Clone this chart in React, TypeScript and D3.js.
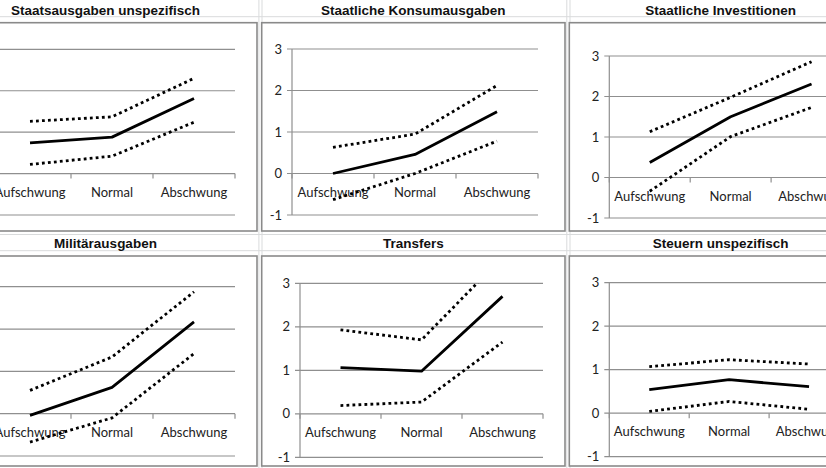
import React from "react";
import * as d3 from "d3";

const categories = ["Aufschwung", "Normal", "Abschwung"];
const yTicks = [-1, 0, 1, 2, 3];
const titles = [
  "Staatsausgaben unspezifisch",
  "Staatliche Konsumausgaben",
  "Staatliche Investitionen",
  "Militärausgaben",
  "Transfers",
  "Steuern unspezifisch",
];

// estimate, upper bound, lower bound
const staatsausgabenMid = [0.74, 0.88, 1.81];
const staatsausgabenUp = [1.26, 1.37, 2.3];
const staatsausgabenLo = [0.22, 0.42, 1.24];

const konsumMid = [0.0, 0.46, 1.49];
const konsumUp = [0.63, 0.95, 2.12];
const konsumLo = [-0.63, 0.0, 0.78];

const investMid = [0.37, 1.5, 2.31];
const investUp = [1.13, 1.98, 2.86];
const investLo = [-0.34, 1.01, 1.73];

const militaerMid = [-0.04, 0.62, 2.17];
const militaerUp = [0.55, 1.34, 2.88];
const militaerLo = [-0.67, -0.1, 1.42];

const transfersMid = [1.06, 0.98, 2.7];
const transfersUp = [1.93, 1.7, 3.6];
const transfersLo = [0.19, 0.27, 1.65];

const steuernMid = [0.54, 0.77, 0.61];
const steuernUp = [1.07, 1.23, 1.13];
const steuernLo = [0.04, 0.27, 0.09];

const seriesByPanel = [
  [staatsausgabenMid, staatsausgabenUp, staatsausgabenLo],
  [konsumMid, konsumUp, konsumLo],
  [investMid, investUp, investLo],
  [militaerMid, militaerUp, militaerLo],
  [transfersMid, transfersUp, transfersLo],
  [steuernMid, steuernUp, steuernLo],
];

// layout of each chart object (borders and plot areas)
const layouts = [
  { bx0: -46, bx1: 257, by0: 22.7, by1: 231, px0: -11, px1: 235, py0: 49.3, py1: 215, ty: 15 },
  { bx0: 261.7, bx1: 565, by0: 22.7, by1: 231, px0: 292, px1: 538, py0: 49, py1: 215, ty: 15 },
  { bx0: 569.3, bx1: 872, by0: 22.7, by1: 231, px0: 609.3, px1: 852, py0: 56, py1: 218, ty: 15 },
  { bx0: -46, bx1: 257, by0: 256, by1: 466, px0: -11, px1: 235, py0: 286.7, py1: 456, ty: 247.5 },
  { bx0: 261.7, bx1: 565, by0: 256, by1: 466, px0: 300, px1: 543, py0: 283.3, py1: 457.3, ty: 247.5 },
  { bx0: 569.3, bx1: 872, by0: 256, by1: 466, px0: 609.3, px1: 849, py0: 282.7, py1: 456.7, ty: 247.5 },
];

const GRID = "#8f8f8f";
const SHEET = "#d9dbdc";

function Panel({ idx }: { idx: number }) {
  const L = layouts[idx];
  const x = d3.scaleBand<string>().domain(categories).range([L.px0, L.px1]).padding(0);
  const y = d3.scaleLinear().domain([-1, 3]).range([L.py1, L.py0]);
  const bw = x.bandwidth();
  const line = d3
    .line<number>()
    .x((_, i) => (x(categories[i]) as number) + bw / 2)
    .y((v) => y(v));
  const [mid, up, lo] = seriesByPanel[idx];
  const clipId = `clip${idx}`;
  const y0 = y(0);
  const showYLabels = L.px0 - 10 > 0;
  return (
    <g>
      <rect
        x={L.bx0}
        y={L.by0}
        width={L.bx1 - L.bx0}
        height={L.by1 - L.by0}
        fill="#fff"
        stroke="#8a8a8a"
        strokeWidth={1.6}
      />
      <text
        x={(L.bx0 + L.bx1) / 2}
        y={L.ty}
        textAnchor="middle"
        fontFamily="'Liberation Sans', Arial, sans-serif"
        fontWeight="bold"
        fontSize={13.5}
        fill="#111"
      >
        {titles[idx]}
      </text>
      <defs>
        <clipPath id={clipId}>
          <rect x={L.px0} y={y(3)} width={L.px1 - L.px0 + 20} height={y(-1) - y(3)} />
        </clipPath>
      </defs>
      {yTicks.map((t) => (
        <g key={t}>
          <line x1={L.px0 - 5} x2={L.px1} y1={y(t)} y2={y(t)} stroke={GRID} strokeWidth={1.2} />
          {showYLabels && (
            <text
              x={L.px0 - 10}
              y={y(t) + 4.5}
              textAnchor="end"
              fontFamily="Lato, 'Open Sans', sans-serif"
              fontSize={13}
              fill="#222"
            >
              {t}
            </text>
          )}
        </g>
      ))}
      <line x1={L.px0} x2={L.px0} y1={y(3)} y2={y(-1)} stroke={GRID} strokeWidth={1.2} />
      {[0, 1, 2, 3].map((i) => (
        <line
          key={i}
          x1={L.px0 + i * bw}
          x2={L.px0 + i * bw}
          y1={y0}
          y2={y0 + 5}
          stroke={GRID}
          strokeWidth={1.2}
        />
      ))}
      {categories.map((c) => (
        <text
          key={c}
          x={(x(c) as number) + bw / 2}
          y={y0 + 23}
          textAnchor="middle"
          fontFamily="Lato, 'Open Sans', sans-serif"
          fontSize={13}
          fill="#222"
        >
          {c}
        </text>
      ))}
      <g clipPath={`url(#${clipId})`}>
        <path d={line(up) || ""} fill="none" stroke="#000" strokeWidth={2.8} strokeDasharray="2.8 3.2" />
        <path d={line(lo) || ""} fill="none" stroke="#000" strokeWidth={2.8} strokeDasharray="2.8 3.2" />
        <path d={line(mid) || ""} fill="none" stroke="#000" strokeWidth={2.8} strokeLinejoin="round" />
      </g>
    </g>
  );
}

export default function App() {
  return (
    <svg
      width={826}
      height={468}
      style={{ position: "absolute", left: 0, top: 0, background: "#fff" }}
    >
      <rect x={0} y={0} width={826} height={468} fill="#fff" />
      {[16.7, 234.5, 250.7].map((v) => (
        <line key={v} x1={0} x2={826} y1={v} y2={v} stroke={SHEET} strokeWidth={1} />
      ))}
      {[258.9, 262, 566.8, 570].map((v) => (
        <line key={v} x1={v} x2={v} y1={0} y2={468} stroke={SHEET} strokeWidth={1} />
      ))}
      {layouts.map((_, i) => (
        <Panel key={i} idx={i} />
      ))}
    </svg>
  );
}
